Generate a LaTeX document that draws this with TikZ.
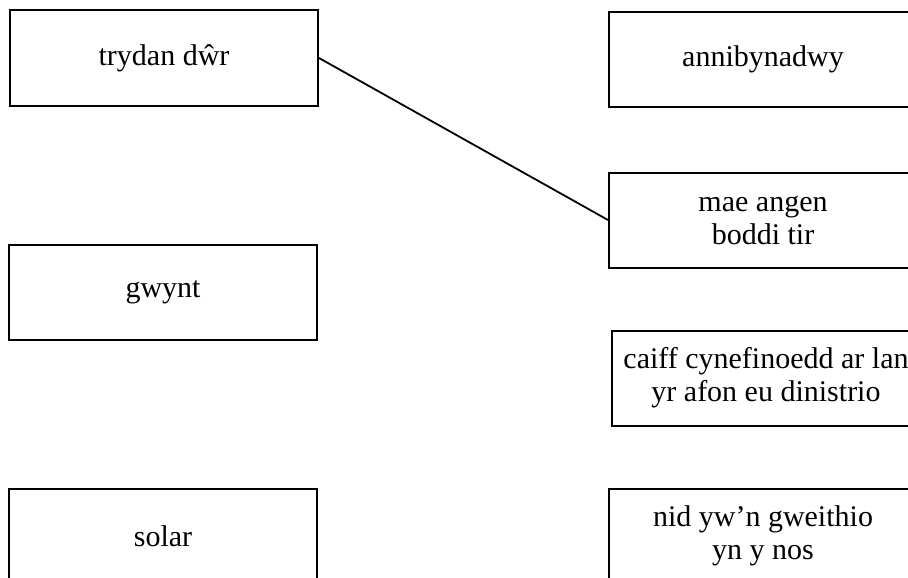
\documentclass[tikz,border=0pt]{standalone}
\usepackage{fontspec}
\setmainfont{Liberation Serif}
\begin{document}
\begin{tikzpicture}[x=1pt,y=-1pt,
  box/.style={draw, line width=2pt, minimum width=308pt, minimum height=95pt,
    inner sep=2pt, align=center, font=\fontsize{30}{33}\selectfont},
  link/.style={line width=1.8pt}]
\useasboundingbox (0,0) rectangle (908,578);
\clip (0,0) rectangle (908,578);
\node[box] (trydan) at (164,58) {trydan dŵr};
\node[box] (gwynt) at (163,292.5) {gwynt};
\node[box] (solar) at (163,536) {solar};
\node[box] (anni) at (763,59.5) {annibynadwy};
\node[box] (mae) at (763,220) {mae angen\\boddi tir};
\node[box] (caiff) at (766,378) {caiff cynefinoedd ar lan\\yr afon eu dinistrio};
\node[box] (nid) at (763,536) {nid yw’n gweithio\\yn y nos};
\draw[link] (trydan.east) -- (mae.west);
\end{tikzpicture}
\end{document}
